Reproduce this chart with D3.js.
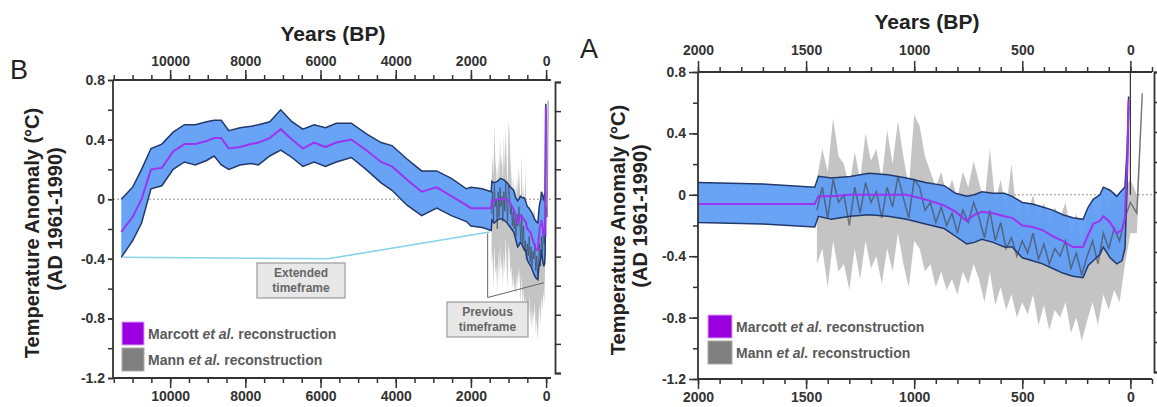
<!DOCTYPE html>
<html><head><meta charset="utf-8">
<script src="https://cdn.jsdelivr.net/npm/d3@7"></script>
<style>
body{margin:0;background:#fff}
svg{display:block}
text{font-family:"Liberation Sans",Arial,sans-serif}
</style>
</head><body>
<svg id="c" width="1157" height="407"></svg>
<script>
// ---- Marcott et al. reconstruction (years BP, anomaly °C) ----
const marcottBP = [11300,11000,10760,10510,10220,9920,9620,9330,9030,8830,8640,8440,8140,7850,7650,7350,7060,6760,6470,6170,5870,5580,5180,4790,4390,4100,3700,3310,2910,2520,2120,2000,1700,1460,1443,1383,1296,1209,1122,1035,948,861,809,757,722,687,635,583,547,500,453,406,359,313,266,219,195,172,141,125,94,63,39,25,15,8];
const marcottMean = [-0.22,-0.12,0.00,0.20,0.21,0.32,0.37,0.37,0.39,0.41,0.41,0.34,0.35,0.37,0.38,0.41,0.47,0.40,0.34,0.38,0.35,0.38,0.40,0.33,0.25,0.22,0.13,0.05,0.08,0.02,-0.04,-0.06,-0.06,-0.06,-0.01,-0.01,0.00,0.00,0.00,0.00,-0.03,-0.07,-0.11,-0.17,-0.13,-0.11,-0.12,-0.14,-0.15,-0.20,-0.21,-0.23,-0.27,-0.30,-0.34,-0.34,-0.26,-0.19,-0.17,-0.14,-0.18,-0.25,-0.23,-0.15,0.20,0.62];
const marcottUpper = [0.00,0.08,0.20,0.34,0.37,0.45,0.50,0.50,0.52,0.53,0.53,0.46,0.48,0.49,0.50,0.52,0.60,0.52,0.47,0.50,0.48,0.51,0.51,0.44,0.38,0.36,0.27,0.19,0.19,0.14,0.07,0.08,0.07,0.05,0.12,0.11,0.12,0.14,0.13,0.11,0.08,0.06,0.01,-0.01,0.00,0.02,0.01,0.01,-0.01,-0.05,-0.06,-0.08,-0.10,-0.13,-0.15,-0.16,-0.08,-0.03,0.00,0.05,0.03,-0.01,0.03,0.05,0.30,0.64];
const marcottLower = [-0.39,-0.28,-0.16,0.07,0.09,0.20,0.25,0.23,0.26,0.29,0.23,0.20,0.23,0.24,0.23,0.29,0.33,0.28,0.22,0.25,0.22,0.25,0.28,0.20,0.11,0.06,-0.04,-0.11,-0.06,-0.11,-0.15,-0.18,-0.19,-0.21,-0.14,-0.16,-0.14,-0.13,-0.14,-0.16,-0.19,-0.22,-0.27,-0.32,-0.31,-0.29,-0.31,-0.34,-0.34,-0.41,-0.43,-0.45,-0.48,-0.51,-0.53,-0.54,-0.46,-0.43,-0.39,-0.34,-0.41,-0.45,-0.43,-0.35,0.05,0.58];

// ---- Mann et al. reconstruction ----
const mannBP = [1450,1425,1400,1375,1350,1325,1300,1275,1250,1225,1200,1175,1150,1125,1100,1075,1050,1025,1000,975,950,925,900,875,850,825,800,775,750,725,700,675,650,625,600,575,550,525,500,475,450,425,400,375,350,325,300,275,250,225,200,175,150,125,100,75,50,25,0,-30,-55];
const mannMid = [-0.10,0.05,-0.15,0.10,-0.05,0.00,-0.20,0.05,-0.12,0.08,-0.05,0.02,-0.15,0.05,-0.08,0.12,-0.02,-0.15,0.10,0.05,-0.10,-0.05,-0.18,-0.08,-0.20,-0.12,-0.25,-0.10,-0.18,-0.05,-0.15,-0.28,-0.10,-0.30,-0.18,-0.35,-0.28,-0.40,-0.30,-0.38,-0.25,-0.42,-0.32,-0.45,-0.35,-0.40,-0.30,-0.48,-0.38,-0.52,-0.40,-0.30,-0.45,-0.25,-0.35,-0.22,-0.30,-0.15,-0.05,-0.12,0.66];
const mannHi = [0.10,0.30,0.15,0.50,0.25,0.20,0.05,0.28,0.10,0.40,0.22,0.30,0.10,0.42,0.20,0.48,0.25,0.05,0.52,0.45,0.25,0.15,0.05,0.15,0.00,0.10,-0.02,0.15,0.05,0.22,0.08,-0.05,0.30,-0.05,0.10,-0.10,0.20,-0.15,-0.05,-0.12,0.00,-0.18,-0.05,-0.20,-0.08,-0.15,-0.05,-0.25,-0.12,-0.30,-0.15,-0.05,-0.20,0.00,-0.10,0.02,-0.05,0.05,0.10,0.00,0.70];
const mannLo = [-0.45,-0.35,-0.60,-0.30,-0.50,-0.45,-0.62,-0.35,-0.55,-0.30,-0.48,-0.40,-0.58,-0.35,-0.50,-0.25,-0.45,-0.60,-0.30,-0.35,-0.50,-0.45,-0.60,-0.50,-0.62,-0.55,-0.65,-0.50,-0.58,-0.45,-0.55,-0.70,-0.50,-0.72,-0.60,-0.75,-0.65,-0.80,-0.70,-0.78,-0.65,-0.85,-0.72,-0.88,-0.75,-0.80,-0.70,-0.90,-0.80,-0.95,-0.82,-0.70,-0.85,-0.65,-0.75,-0.62,-0.70,-0.45,-0.25,-0.25,0.60];

// ---- annotation connectors (data units) ----
const extendedBP = [11250, 5800, 1500];
const extendedVal = [-0.39, -0.40, -0.22];
const previousBP = [1555, 1555, 53];
const previousVal = [-0.23, -0.66, -0.56];

// ---- tick values ----
const yTicksLabeled = [0.8, 0.4, 0, -0.4, -0.8, -1.2];
const yTicksAll = [0.8, 0.6, 0.4, 0.2, 0, -0.2, -0.4, -0.6, -0.8, -1.0, -1.2];
const bTicksMajor = [10000, 8000, 6000, 4000, 2000, 0];
const bTicksMinor = [11500,11000,10500,10000,9500,9000,8500,8000,7500,7000,6500,6000,5500,5000,4500,4000,3500,3000,2500,2000,1500,1000,500,0];
const aTicksMajor = [2000, 1500, 1000, 500, 0];
const aTicksMinor = [2000,1900,1800,1700,1600,1500,1400,1300,1200,1100,1000,900,800,700,600,500,400,300,200,100,0,-100];

const legendLabels = [["Marcott ", "et al.", " reconstruction"], ["Mann ", "et al.", " reconstruction"]];
const legendColors = ["#9b00e0", "#808080"];

const svg = d3.select("#c");
const defs = svg.append("defs");
const INK = "#333";
const fmtY = d => d === 0 ? "0" : (d < 0 ? "-" : "") + Math.abs(d).toFixed(1);

function panel(o) {
  const x = d3.scaleLinear().domain(o.xDomain).range(o.xRange);
  const y = d3.scaleLinear().domain([-1.2, 0.8]).range(o.yRange);
  const yR = d3.scaleLinear().domain([-1.2, 0.8]).range(o.yRightRange);
  const g = svg.append("g");

  defs.append("clipPath").attr("id", "clip" + o.letter).append("rect")
    .attr("x", o.xRange[0]).attr("y", o.yRange[1])
    .attr("width", o.xRange[1] - o.xRange[0]).attr("height", o.yRange[0] - o.yRange[1]);
  const pg = g.append("g").attr("clip-path", `url(#clip${o.letter})`);

  const mc = marcottBP.map((d, i) => ({bp: d, m: marcottMean[i], u: marcottUpper[i], l: marcottLower[i]}));
  const mn = mannBP.map((d, i) => ({bp: d, m: mannMid[i], h: mannHi[i], l: mannLo[i]}));

  // zero reference
  pg.append("line").attr("x1", o.xRange[0]).attr("x2", o.xRange[1])
    .attr("y1", y(0)).attr("y2", y(0))
    .attr("stroke", "#a08a80").attr("stroke-width", 1).attr("stroke-dasharray", "2,2");

  // Mann uncertainty
  pg.append("path").datum(mn)
    .attr("d", d3.area().x(d => x(d.bp)).y0(d => y(d.l)).y1(d => y(d.h)))
    .attr("fill", "#bababa").attr("opacity", 0.85);

  // Marcott band
  pg.append("path").datum(mc)
    .attr("d", d3.area().x(d => x(d.bp)).y0(d => y(d.l)).y1(d => y(d.u)))
    .attr("fill", "#5b9bf5").attr("fill-opacity", 0.92);

  // Mann central
  pg.append("path").datum(mn)
    .attr("d", d3.line().x(d => x(d.bp)).y(d => y(d.m)))
    .attr("fill", "none").attr("stroke", "#404040").attr("stroke-width", o.mannW).attr("opacity", 0.6);

  // band outlines
  ["u", "l"].forEach(k => {
    pg.append("path").datum(mc)
      .attr("d", d3.line().x(d => x(d.bp)).y(d => y(d[k])))
      .attr("fill", "none").attr("stroke", "#22396a").attr("stroke-width", 1.5);
  });

  // Marcott mean
  pg.append("path").datum(mc)
    .attr("d", d3.line().x(d => x(d.bp)).y(d => y(d.m)))
    .attr("fill", "none").attr("stroke", "#9a35f0").attr("stroke-width", 2);

  if (o.zeroLine) {
    pg.append("line").attr("x1", x(0)).attr("x2", x(0)).attr("y1", y(0.8)).attr("y2", y(0))
      .attr("stroke", INK).attr("stroke-width", 1.2);
  }

  // axes
  const styleAxis = s => {
    s.select(".domain").remove();
    s.selectAll("line").attr("stroke", INK).attr("stroke-width", 1.5);
    s.selectAll("text").attr("font-size", 14).attr("font-weight", "bold").attr("fill", INK)
      .attr("font-family", '"Liberation Sans",Arial,sans-serif');
  };
  const [top, bot] = [o.yRange[1], o.yRange[0]];
  g.append("g").attr("transform", `translate(0,${top})`)
    .call(d3.axisTop(x).tickValues(o.minor).tickSize(5).tickFormat("")).call(styleAxis);
  g.append("g").attr("transform", `translate(0,${top})`)
    .call(d3.axisTop(x).tickValues(o.major).tickSize(o.majorLen).tickPadding(o.topPad).tickFormat(d3.format("d"))).call(styleAxis);
  g.append("g").attr("transform", `translate(0,${bot})`)
    .call(d3.axisBottom(x).tickValues(o.minor).tickSize(5).tickFormat("")).call(styleAxis);
  g.append("g").attr("transform", `translate(0,${bot})`)
    .call(d3.axisBottom(x).tickValues(o.major).tickSize(10).tickPadding(3).tickFormat(d3.format("d"))).call(styleAxis);
  g.append("g").attr("transform", `translate(${o.xRange[0]},0)`)
    .call(d3.axisLeft(y).tickValues(yTicksAll).tickSize(5).tickFormat("")).call(styleAxis);
  g.append("g").attr("transform", `translate(${o.xRange[0]},0)`)
    .call(d3.axisLeft(y).tickValues(yTicksLabeled).tickSize(o.yMajorLen).tickPadding(3).tickFormat(fmtY)).call(styleAxis);

  // frame
  const fr = g.append("g").attr("stroke", INK).attr("stroke-width", 1.8);
  fr.append("line").attr("x1", o.xRange[0]).attr("x2", o.xRange[1]).attr("y1", top).attr("y2", top);
  fr.append("line").attr("x1", o.xRange[0]).attr("x2", o.xRange[1]).attr("y1", bot).attr("y2", bot);
  fr.append("line").attr("x1", o.xRange[0]).attr("x2", o.xRange[0]).attr("y1", top).attr("y2", bot);

  // right axis
  g.append("g").attr("transform", `translate(${o.rightX},0)`)
    .call(d3.axisRight(yR).tickValues(yTicksAll).tickSize(6).tickSizeOuter(6).tickFormat(""))
    .call(s => { s.select(".domain").attr("stroke", INK).attr("stroke-width", 1.8).attr("fill", "none");
                 s.selectAll(".tick line").attr("stroke", INK).attr("stroke-width", 1.5); });

  // titles
  g.append("text").attr("x", o.titleX).attr("y", o.titleY).attr("text-anchor", "middle")
    .attr("font-size", 21).attr("font-weight", "bold").attr("fill", "#222").text("Years (BP)");
  g.append("text").attr("x", o.letterX).attr("y", o.letterY).attr("font-size", 27).attr("fill", "#222")
    .text(o.letter);
  g.append("text").attr("transform", `translate(${o.yt1X},${o.ytY}) rotate(-90)`).attr("text-anchor", "middle")
    .attr("font-size", 20).attr("font-weight", "bold").attr("fill", "#222").text("Temperature Anomaly (°C)");
  g.append("text").attr("transform", `translate(${o.yt2X},${o.ytY - 14}) rotate(-90)`).attr("text-anchor", "middle")
    .attr("font-size", 20).attr("font-weight", "bold").attr("fill", "#222").text("(AD 1961-1990)");

  // legend
  legendColors.forEach((c, i) => {
    const ly = o.legY + i * 26;
    g.append("rect").attr("x", o.legX).attr("y", ly).attr("width", o.legW).attr("height", 23)
      .attr("fill", c).attr("stroke", i === 0 ? "#d9a0f5" : "#aaa").attr("stroke-width", 1);
    const t = g.append("text").attr("x", o.legX + o.legW + 4).attr("y", ly + 17)
      .attr("font-size", 14).attr("font-weight", "bold").attr("fill", "#5a5a5a");
    legendLabels[i].forEach((s, j) => t.append("tspan").attr("font-style", j === 1 ? "italic" : "normal").text(s));
  });

  return {x, y, g};
}

const B = panel({
  xDomain: [11520, -130], xRange: [113, 551], yRange: [378, 80], yRightRange: [373, 82], rightX: 555,
  minor: bTicksMinor, major: bTicksMajor, majorLen: 10, topPad: 4, yMajorLen: 5, mannW: 1.0,
  titleX: 333, titleY: 41, letter: "B", letterX: 10, letterY: 79,
  yt1X: 39, yt2X: 62, ytY: 233, legX: 122, legY: 322, legW: 22, zeroLine: false
});
const A = panel({
  xDomain: [2000, -100], xRange: [698, 1152], yRange: [379, 72], yRightRange: [372, 72], rightX: 1154,
  minor: aTicksMinor, major: aTicksMajor, majorLen: 11, topPad: 6, yMajorLen: 9, mannW: 1.5,
  titleX: 927, titleY: 29, letter: "A", letterX: 580, letterY: 58,
  yt1X: 625, yt2X: 647, ytY: 230, legX: 708, legY: 315, legW: 24, zeroLine: true
});

// annotations on panel B
const ext = extendedBP.map((d, i) => [B.x(d), B.y(extendedVal[i])]);
B.g.append("path").attr("d", d3.line()(ext)).attr("fill", "none").attr("stroke", "#86d4e4").attr("stroke-width", 1.6);
const prev = previousBP.map((d, i) => [B.x(d), B.y(previousVal[i])]);
B.g.append("path").attr("d", d3.line()(prev)).attr("fill", "none").attr("stroke", "#666").attr("stroke-width", 1);

function box(g, x0, y0, w, h, lines) {
  g.append("rect").attr("x", x0).attr("y", y0).attr("width", w).attr("height", h)
    .attr("fill", "#e8e8e8").attr("stroke", "#9a9a9a").attr("stroke-width", 1.2);
  lines.forEach((s, i) => g.append("text").attr("x", x0 + w / 2).attr("y", y0 + 14 + i * 15)
    .attr("text-anchor", "middle").attr("font-size", 12).attr("font-weight", "bold").attr("fill", "#666").text(s));
}
box(B.g, 257, 263, 88, 35, ["Extended", "timeframe"]);
box(B.g, 447, 302, 81, 35, ["Previous", "timeframe"]);
</script>
</body></html>
